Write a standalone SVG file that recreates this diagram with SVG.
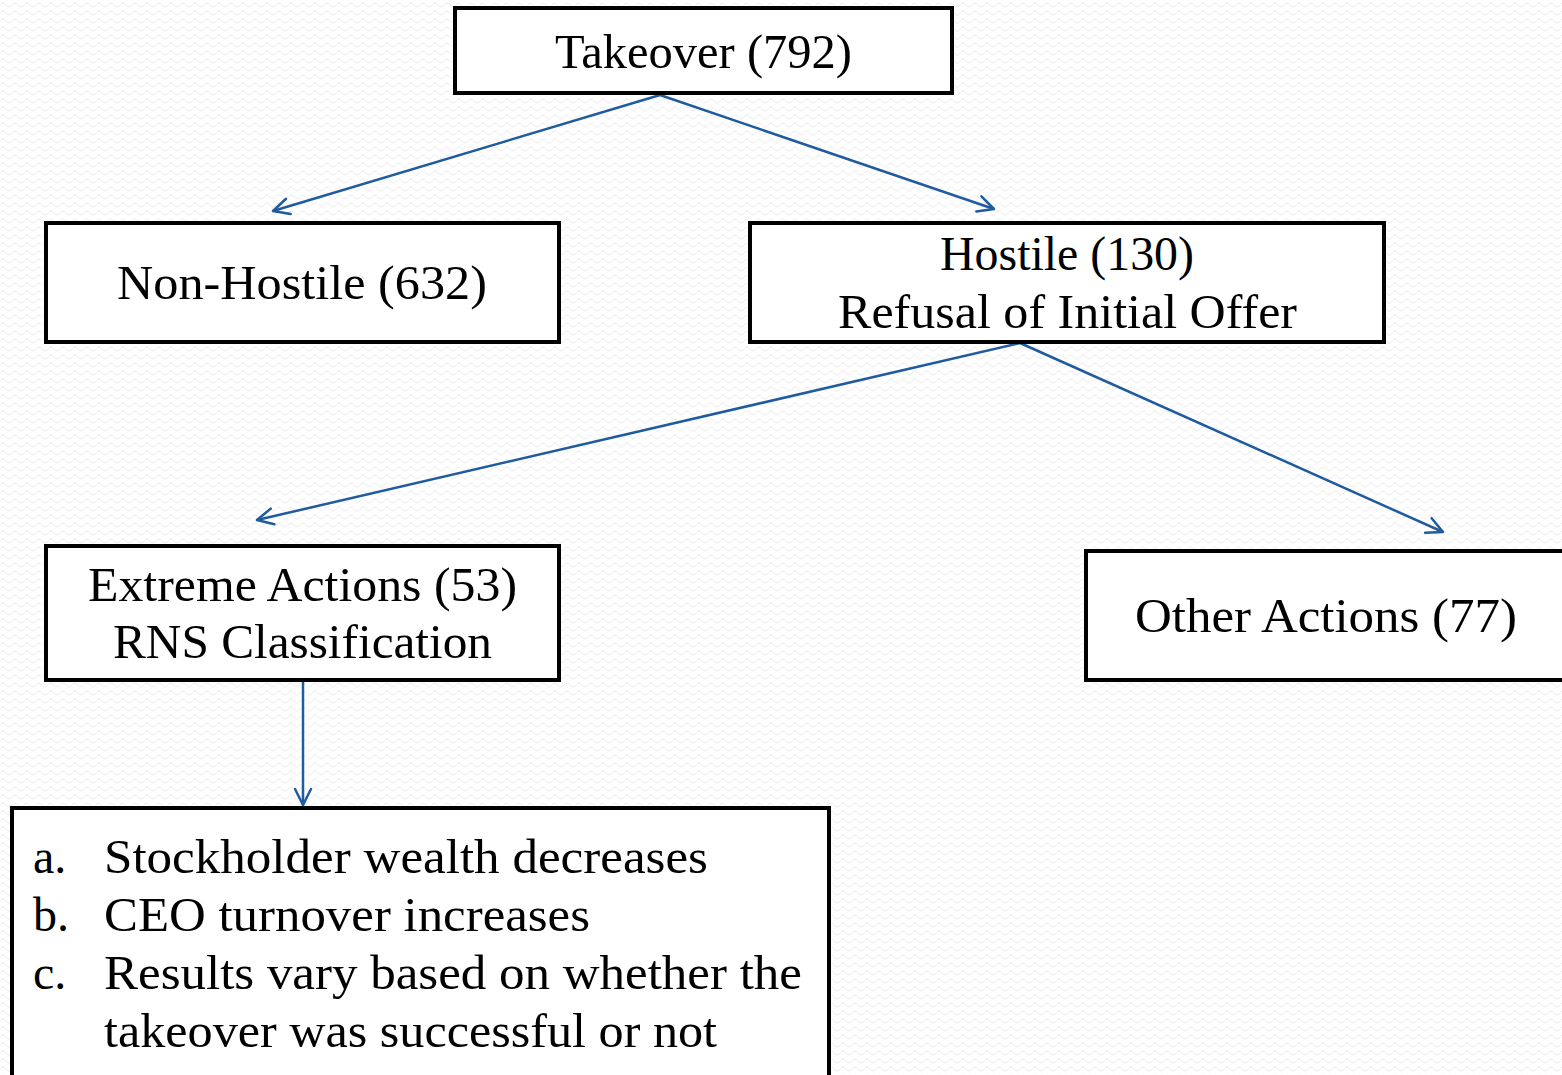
<svg xmlns="http://www.w3.org/2000/svg" width="1562" height="1075" viewBox="0 0 1562 1075">
<defs>
<pattern id="bg" width="12" height="8" patternUnits="userSpaceOnUse">
<rect width="12" height="8" fill="#ffffff"/>
<path d="M0 5 Q3 1 6 5 T12 5" fill="none" stroke="#ececec" stroke-width="1"/>
</pattern>
<marker id="arr" viewBox="0 0 20 20" refX="18" refY="10" markerWidth="20" markerHeight="20" markerUnits="userSpaceOnUse" orient="auto">
<path d="M2 2 L18 10 L2 18" fill="none" stroke="#1f5b9e" stroke-width="2.5" stroke-linecap="round" stroke-linejoin="round"/>
</marker>
<style>
.box{fill:#ffffff;stroke:#000000;stroke-width:4}
.t{font-family:"Liberation Serif","Times New Roman",serif;font-size:48px;fill:#000000}
.c{text-anchor:middle}
.ln{stroke:#1f5b9e;stroke-width:2.5;fill:none;marker-end:url(#arr)}
</style>
</defs>
<rect width="1562" height="1075" fill="url(#bg)"/>
<g id="connectors">
<line class="ln" x1="660" y1="95" x2="273" y2="211"/>
<line class="ln" x1="660" y1="95" x2="994" y2="209"/>
<line class="ln" x1="1020" y1="343" x2="257" y2="520"/>
<line class="ln" x1="1020" y1="343" x2="1443" y2="532"/>
<line class="ln" x1="303" y1="681" x2="303" y2="805"/>
</g>
<g id="takeover">
<rect class="box" x="455" y="8" width="497" height="85"/>
<text class="t" x="555" y="68" textLength="297" lengthAdjust="spacingAndGlyphs">Takeover (792)</text>
</g>
<g id="nonhostile">
<rect class="box" x="46" y="223" width="513" height="119"/>
<text class="t" x="117" y="299" textLength="370" lengthAdjust="spacingAndGlyphs">Non-Hostile (632)</text>
</g>
<g id="hostile">
<rect class="box" x="750" y="223" width="634" height="119"/>
<text class="t" x="940" y="270" textLength="254" lengthAdjust="spacingAndGlyphs">Hostile (130)</text>
<text class="t" x="838" y="328" textLength="459" lengthAdjust="spacingAndGlyphs">Refusal of Initial Offer</text>
</g>
<g id="extreme">
<rect class="box" x="46" y="546" width="513" height="134"/>
<text class="t" x="88" y="601" textLength="429" lengthAdjust="spacingAndGlyphs">Extreme Actions (53)</text>
<text class="t" x="113" y="658" textLength="379" lengthAdjust="spacingAndGlyphs">RNS Classification</text>
</g>
<g id="other">
<rect class="box" x="1086" y="551" width="480" height="129"/>
<text class="t" x="1135" y="632" textLength="382" lengthAdjust="spacingAndGlyphs">Other Actions (77)</text>
</g>
<g id="results">
<rect class="box" x="12" y="808" width="817" height="272"/>
<text class="t" x="33" y="873">a.</text>
<text class="t" x="104" y="873" textLength="604" lengthAdjust="spacingAndGlyphs">Stockholder wealth decreases</text>
<text class="t" x="33" y="931">b.</text>
<text class="t" x="104" y="931" textLength="486" lengthAdjust="spacingAndGlyphs">CEO turnover increases</text>
<text class="t" x="33" y="989">c.</text>
<text class="t" x="104" y="989" textLength="698" lengthAdjust="spacingAndGlyphs">Results vary based on whether the</text>
<text class="t" x="104" y="1047" textLength="613" lengthAdjust="spacingAndGlyphs">takeover was successful or not</text>
</g>
</svg>
